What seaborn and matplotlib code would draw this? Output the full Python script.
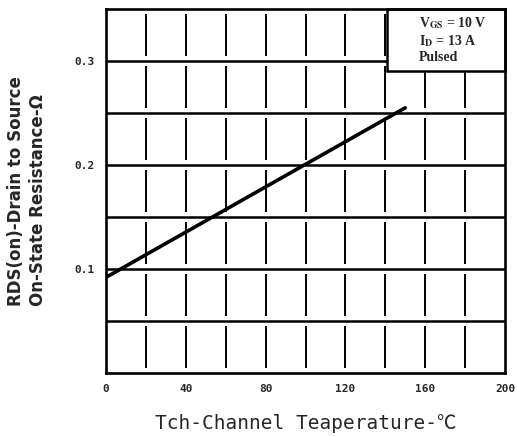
import matplotlib
matplotlib.use("Agg")
import matplotlib.pyplot as plt
import matplotlib.patches as mpatches
import seaborn as sns
import pandas as pd

# ---- data ----
temperature = [0, 150]            # Tch (deg C)
rds_on = [0.092, 0.255]           # RDS(on) (ohm)
x_ticks = [0, 40, 80, 120, 160, 200]
y_ticks = [0.1, 0.2, 0.3]
x_grid = [20, 40, 60, 80, 100, 120, 140, 160, 180]
y_grid = [0.05, 0.10, 0.15, 0.20, 0.25, 0.30]
cond_lines = ["V$_{\\mathbf{GS}}$ = 10 V", "I$_{\\mathbf{D}}$ = 13 A", "Pulsed"]

sns.set_style("white")
plt.rcParams["mathtext.fontset"] = "stix"

fig = plt.figure(figsize=(5.17, 4.37), dpi=100)
ax = fig.add_axes([106 / 517, 1 - 373 / 437, 399 / 517, 364 / 437])

xmin, xmax, ymin, ymax = 0, 200, 0, 0.35
ax.set_xlim(xmin, xmax)
ax.set_ylim(ymin, ymax)

# horizontal grid lines
for yv in y_grid:
    ax.axhline(yv, color="black", lw=1.8, zorder=1)

# vertical grid lines, broken near each horizontal line
gap = 0.005
bands = [ymin] + y_grid + [ymax]
for xv in x_grid:
    for lo, hi in zip(bands[:-1], bands[1:]):
        ax.vlines(xv, lo + gap, hi - gap, color="black", lw=1.4, zorder=1)

df = pd.DataFrame({"Tch": temperature, "RDS": rds_on})
sns.lineplot(data=df, x="Tch", y="RDS", ax=ax, color="black", lw=2.6, zorder=3)

# conditions box (top right)
box = mpatches.Rectangle((141, 0.29), xmax - 141, ymax - 0.29, facecolor="white",
                         edgecolor="black", lw=1.8, zorder=5, clip_on=False)
ax.add_patch(box)
for txt, yy in zip(cond_lines, [0.962, 0.912, 0.866]):
    ax.text(0.785, yy, txt, transform=ax.transAxes, fontsize=10, fontweight="bold",
            family="Liberation Serif", va="center", ha="left", zorder=6)

ax.set_xticks(x_ticks)
ax.set_xticklabels([str(v) for v in x_ticks])
ax.set_yticks(y_ticks)
ax.set_yticklabels([f"{v:.1f}" for v in y_ticks])
ax.tick_params(length=0, pad=8, labelsize=8)
for lab in ax.get_xticklabels() + ax.get_yticklabels():
    lab.set_fontweight("bold")
    lab.set_family("DejaVu Sans Mono")

for sp in ax.spines.values():
    sp.set_visible(True)
    sp.set_color("black")
    sp.set_linewidth(1.9)
    sp.set_zorder(7)

ax.set_xlabel("Tch-Channel Teaperature-\u2103",
              family=["DejaVu Sans Mono", "Noto Sans CJK SC"],
              fontsize=14, labelpad=14)
ax.set_ylabel("RDS(on)-Drain to Source\nOn-State Resistance-\u03a9",
              fontsize=12, fontweight="bold", family="DejaVu Sans",
              multialignment="left", linespacing=1.3, labelpad=20)

fig.savefig("out.png", dpi=100)
